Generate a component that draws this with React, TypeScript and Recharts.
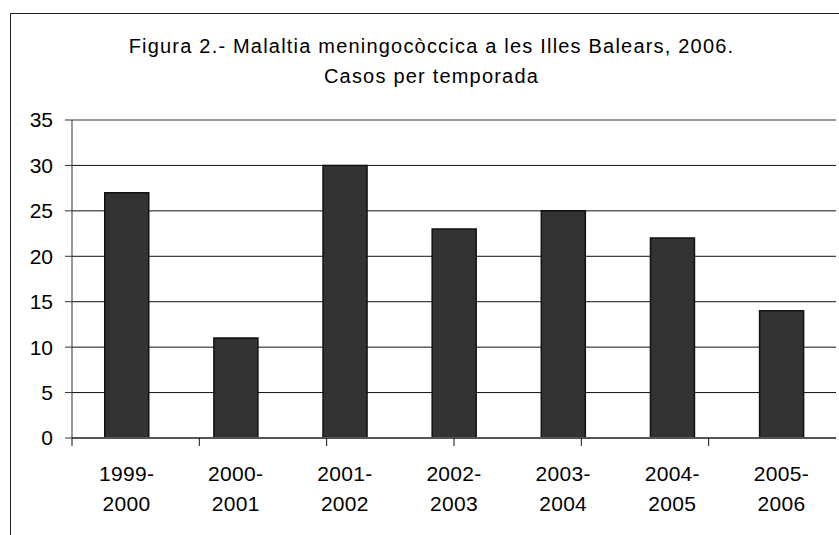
// Figura 2 — Malaltia meningocòccica a les Illes Balears, 2006
// BarChart : casos per temporada.

import { BarChart, Bar, CartesianGrid, XAxis, YAxis, ReferenceLine } from 'recharts';

const seasons = ['1999-2000', '2000-2001', '2001-2002', '2002-2003', '2003-2004', '2004-2005', '2005-2006'];
const cases = [27, 11, 30, 23, 25, 22, 14];
const yTicks = [0, 5, 10, 15, 20, 25, 30, 35];
const boundaryTicks = [0, 1, 2, 3, 4, 5, 6, 7];

const titleLines = [
  'Figura 2.- Malaltia meningocòccica a les Illes Balears, 2006.',
  'Casos per temporada',
];

const data = seasons.map((s, i) => ({ season: s, casos: cases[i] }));

const FONT = '"Liberation Sans", Arial, sans-serif';

function SeasonTick({ x, y, payload }: { x?: number; y?: number; payload?: { value: string } }) {
  const [a, b] = String(payload?.value ?? '').split('-');
  return (
    <text x={x} y={y} textAnchor="middle" fontFamily={FONT} fontSize={21} letterSpacing={0.3} fill="#000">
      <tspan x={x} dy={33}>{a}-</tspan>
      <tspan x={x} dy={30}>{b}</tspan>
    </text>
  );
}

export default function App() {
  return (
    <div style={{ position: 'absolute', left: 0, top: 0, width: 839, height: 535, background: '#fff', overflow: 'hidden' }}>
      <div style={{
        position: 'absolute', left: 10, top: 13, width: 840, height: 600,
        border: '1px solid #222', boxSizing: 'border-box',
      }} />
      <div style={{
        position: 'absolute', left: 10, top: 31, width: 843, textAlign: 'center',
        fontFamily: FONT, fontSize: 20, letterSpacing: 1.2, lineHeight: '30px', color: '#000',
      }}>
        {titleLines.map((t) => <div key={t}>{t}</div>)}
      </div>
      <div style={{ position: 'absolute', left: 0, top: 0 }}>
        <BarChart
          width={839}
          height={535}
          data={data}
          margin={{ top: 120, right: 3, left: 0, bottom: 27 }}
          barCategoryGap="30%"
        >
          <CartesianGrid horizontal vertical={false} stroke="#111" strokeWidth={1} />
          <XAxis
            xAxisId="a"
            type="number"
            domain={[0, 7]}
            ticks={boundaryTicks}
            tickFormatter={() => ''}
            tickSize={8}
            height={10}
            stroke="#555"
            axisLine={{ stroke: '#555', strokeWidth: 2 }}
            tickLine={{ stroke: '#111' }}
          />
          <XAxis
            xAxisId="b"
            dataKey="season"
            type="category"
            height={60}
            axisLine={false}
            tickLine={false}
            tickSize={0}
            tickMargin={0}
            interval={0}
            tick={<SeasonTick />}
          />
          <YAxis
            domain={[0, 35]}
            ticks={yTicks}
            width={72}
            tickSize={7}
            tickMargin={12}
            axisLine={{ stroke: '#333' }}
            tickLine={{ stroke: '#333' }}
            tick={{ fontSize: 21, fill: '#000', fontFamily: FONT }}
          />
          <ReferenceLine y={35} xAxisId="b" stroke="#9a9a9a" strokeWidth={2} />
          <ReferenceLine x={7} xAxisId="a" stroke="#9a9a9a" strokeWidth={2} />
          <Bar
            dataKey="casos"
            xAxisId="b"
            fill="#333333"
            stroke="#111"
            strokeWidth={1.5}
            isAnimationActive={false}
          />
        </BarChart>
      </div>
    </div>
  );
}
